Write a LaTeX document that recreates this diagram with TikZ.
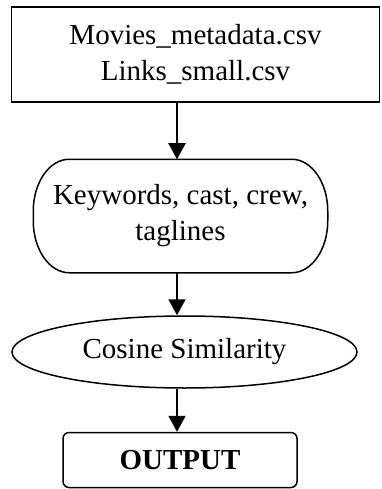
\documentclass[tikz,border=0pt]{standalone}
\usepackage{fontspec}
\setmainfont{Liberation Serif}
\usetikzlibrary{arrows.meta,shapes.geometric}
\begin{document}
\begin{tikzpicture}[x=1pt,y=1pt,
  box/.style={draw,line width=1.5pt,align=center,inner sep=0pt,font=\fontsize{29}{36}\selectfont},
  outline/.style={line width=1.5pt},
  flow/.style={line width=2pt,-{Triangle[length=16pt,width=17pt]}}]
\useasboundingbox (0,0) rectangle (381,-489);
\node[box,minimum width=368pt,minimum height=95pt] (src) at (195.5,-54.5) {Movies\_metadata.csv\\Links\_small.csv};
\node[box,draw=none,minimum width=293pt,minimum height=112pt] (feat) at (180.5,-216) {Keywords, cast, crew,\\taglines};
\draw[outline] ([xshift=36pt]feat.north west) -- ([xshift=-36pt]feat.north east)
  arc[start angle=90,end angle=0,x radius=36pt,y radius=52pt]
  -- ([yshift=52pt]feat.south east)
  arc[start angle=0,end angle=-90,x radius=36pt,y radius=52pt]
  -- ([xshift=36pt]feat.south west)
  arc[start angle=270,end angle=180,x radius=36pt,y radius=52pt]
  -- ([yshift=-52pt]feat.north west)
  arc[start angle=180,end angle=90,x radius=36pt,y radius=52pt] -- cycle;
\node[box,ellipse,minimum width=345pt,minimum height=72pt] (cos) at (184.5,-352) {Cosine Similarity};
\node[box,rounded corners=6pt,minimum width=234pt,minimum height=55pt,font=\fontsize{29}{36}\selectfont\bfseries] (out) at (180,-460) {OUTPUT};
\coordinate (ax) at (177,0);
\draw[flow] (src.south -| ax) -- (feat.north -| ax);
\draw[flow] (feat.south -| ax) -- (cos.north -| ax);
\draw[flow] (cos.south -| ax) -- (out.north -| ax);
\end{tikzpicture}
\end{document}
